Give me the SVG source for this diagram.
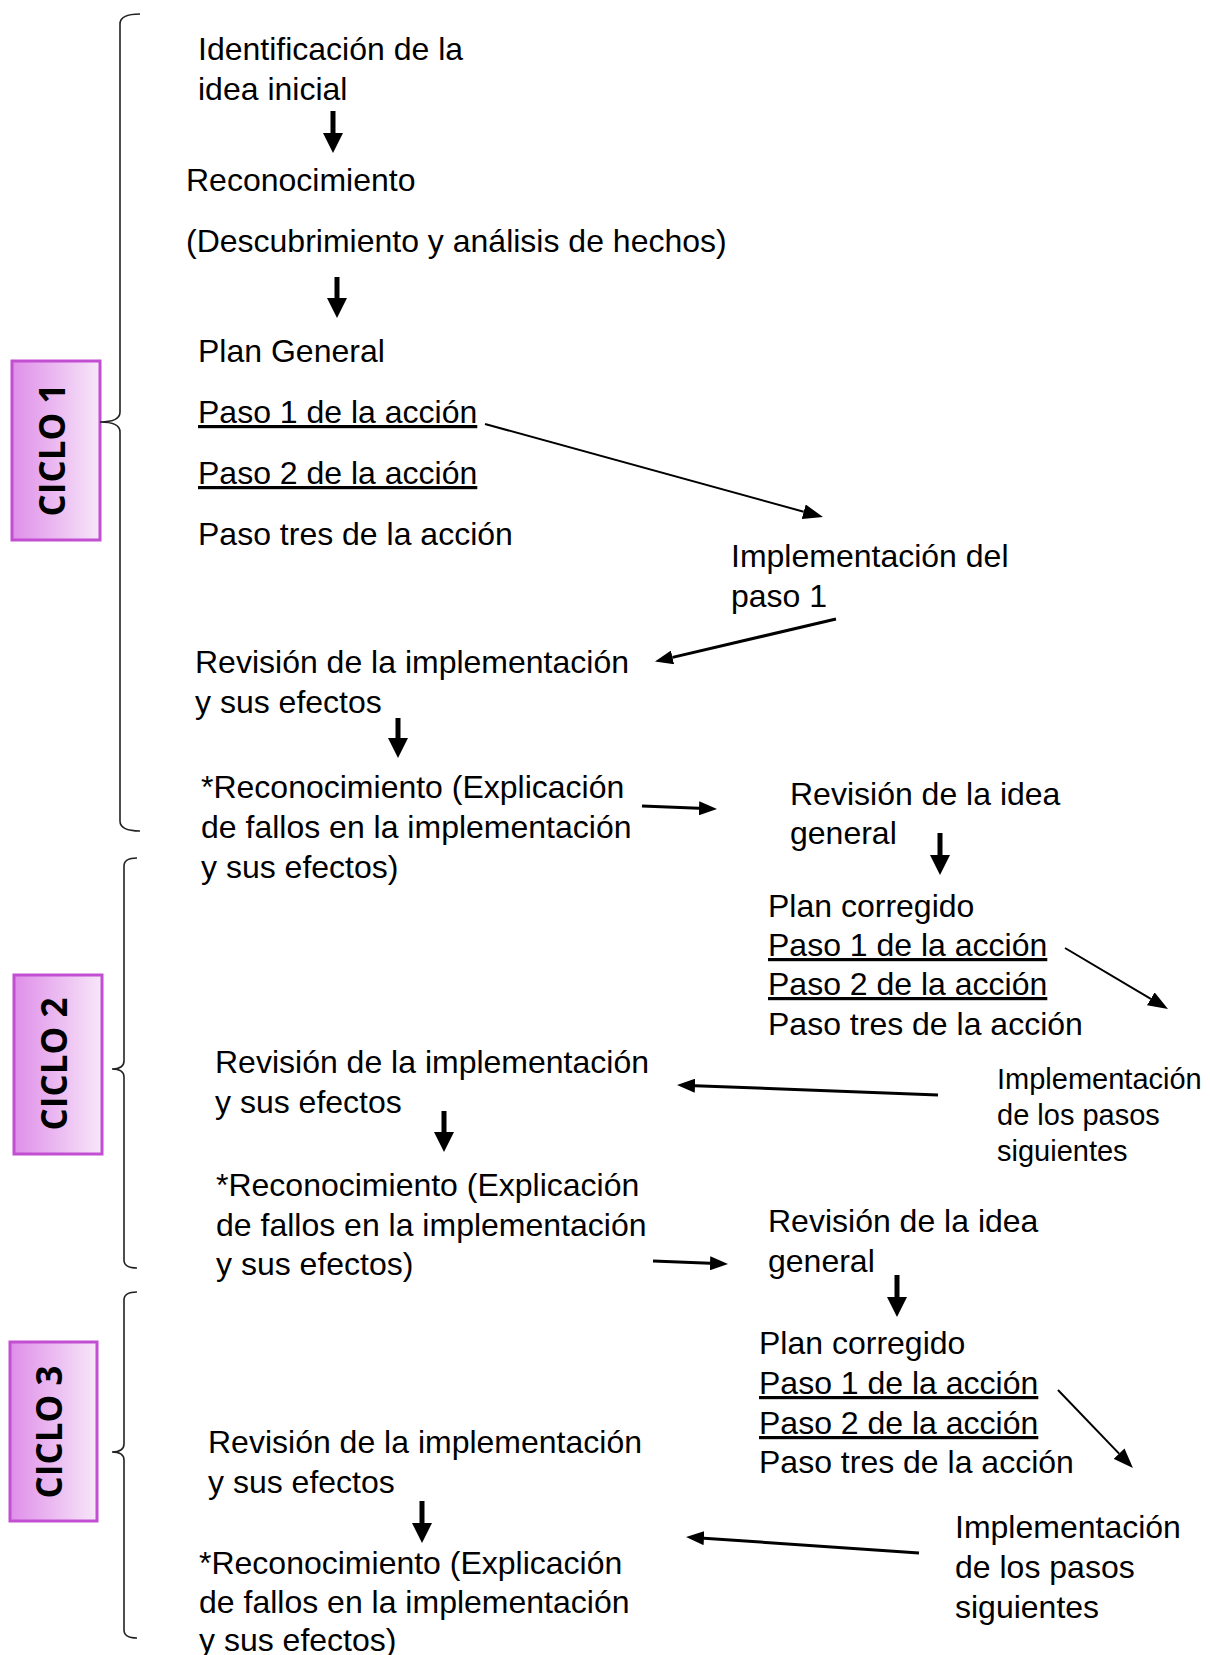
<svg xmlns="http://www.w3.org/2000/svg" width="1210" height="1655" viewBox="0 0 1210 1655">
<style>
.t{font-family:"Liberation Sans",Arial,sans-serif;font-size:32px;fill:#000}
.s{font-size:29px}
.u{text-decoration:underline}
.cy{font-family:"Open Sans","Liberation Sans",sans-serif;font-weight:bold;font-size:35px;fill:#000;text-anchor:middle}
.box{fill:url(#g);stroke:#C24FD2;stroke-width:3}
.br{fill:none;stroke:#222;stroke-width:1.6}
.dn{stroke:#000;stroke-width:5;fill:none;marker-end:url(#big)}
.c3{stroke:#000;stroke-width:3;fill:none;marker-end:url(#med)}
.c2{stroke:#000;stroke-width:2;fill:none;marker-end:url(#thin)}
</style>
<defs>
<linearGradient id="g" x1="0" y1="0" x2="1" y2="0">
<stop offset="0" stop-color="#DF8EE9"/>
<stop offset="1" stop-color="#F7E7F9"/>
</linearGradient>
<marker id="big" markerUnits="userSpaceOnUse" markerWidth="20" markerHeight="20" viewBox="0 0 20 20" refX="0" refY="10" orient="auto"><path d="M0,0 L20,10 L0,20 z" fill="#000"/></marker>
<marker id="med" markerUnits="userSpaceOnUse" markerWidth="18" markerHeight="14" viewBox="0 0 18 14" refX="0" refY="7" orient="auto"><path d="M0,0 L18,7 L0,14 z" fill="#000"/></marker>
<marker id="thin" markerUnits="userSpaceOnUse" markerWidth="20" markerHeight="15" viewBox="0 0 20 15" refX="0" refY="7.5" orient="auto"><path d="M0,0 L20,7.5 L0,15 z" fill="#000"/></marker>
</defs>
<rect width="1210" height="1655" fill="#fff"/>

<g id="ciclo1">
<rect class="box" x="12" y="361" width="88" height="179"/>
<text class="cy" transform="translate(65,450) rotate(-90)">CICLO 1</text>
</g>
<g id="ciclo2">
<rect class="box" x="14" y="975" width="88" height="179"/>
<text class="cy" transform="translate(67,1064) rotate(-90)">CICLO 2</text>
</g>
<g id="ciclo3">
<rect class="box" x="10" y="1342" width="87" height="179"/>
<text class="cy" transform="translate(62,1432) rotate(-90)">CICLO 3</text>
</g>

<g id="braces">
<path class="br" d="M140,14 Q120,14 120,24 L120,412 Q120,422 100,422 Q120,422 120,432 L120,821 Q120,831 140,831"/>
<path class="br" d="M137,858 Q124,858 124,866 L124,1061 Q124,1069 112,1069 Q124,1069 124,1077 L124,1260 Q124,1268 137,1268"/>
<path class="br" d="M137,1292 Q124,1292 124,1300 L124,1444 Q124,1452 112,1452 Q124,1452 124,1460 L124,1630 Q124,1638 137,1638"/>
</g>

<g id="idea-inicial"><text class="t" x="198" y="60">Identificación de la</text><text class="t" x="198" y="100">idea inicial</text></g>
<g id="reconocimiento"><text class="t" x="186" y="191">Reconocimiento</text><text class="t" x="186" y="252">(Descubrimiento y análisis de hechos)</text></g>
<g id="plan-general">
<text class="t" x="198" y="362">Plan General</text>
<text class="t u" x="198" y="423">Paso 1 de la acción</text>
<text class="t u" x="198" y="484">Paso 2 de la acción</text>
<text class="t" x="198" y="545">Paso tres de la acción</text>
</g>
<g id="impl-paso1"><text class="t" x="731" y="567">Implementación del</text><text class="t" x="731" y="607">paso 1</text></g>
<g id="revision1"><text class="t" x="195" y="673">Revisión de la implementación</text><text class="t" x="195" y="713">y sus efectos</text></g>
<g id="reconoc1"><text class="t" x="201" y="798">*Reconocimiento (Explicación</text><text class="t" x="201" y="838">de fallos en la implementación</text><text class="t" x="201" y="878">y sus efectos)</text></g>
<g id="idea-general1"><text class="t" x="790" y="805">Revisión de la idea</text><text class="t" x="790" y="844">general</text></g>
<g id="plan-corregido1">
<text class="t" x="768" y="917">Plan corregido</text>
<text class="t u" x="768" y="956">Paso 1 de la acción</text>
<text class="t u" x="768" y="995">Paso 2 de la acción</text>
<text class="t" x="768" y="1035">Paso tres de la acción</text>
</g>
<g id="impl-pasos1"><text class="t s" x="997" y="1089">Implementación</text><text class="t s" x="997" y="1125">de los pasos</text><text class="t s" x="997" y="1161">siguientes</text></g>
<g id="revision2"><text class="t" x="215" y="1073">Revisión de la implementación</text><text class="t" x="215" y="1113">y sus efectos</text></g>
<g id="reconoc2"><text class="t" x="216" y="1196">*Reconocimiento (Explicación</text><text class="t" x="216" y="1236">de fallos en la implementación</text><text class="t" x="216" y="1275">y sus efectos)</text></g>
<g id="idea-general2"><text class="t" x="768" y="1232">Revisión de la idea</text><text class="t" x="768" y="1272">general</text></g>
<g id="plan-corregido2">
<text class="t" x="759" y="1354">Plan corregido</text>
<text class="t u" x="759" y="1394">Paso 1 de la acción</text>
<text class="t u" x="759" y="1434">Paso 2 de la acción</text>
<text class="t" x="759" y="1473">Paso tres de la acción</text>
</g>
<g id="revision3"><text class="t" x="208" y="1453">Revisión de la implementación</text><text class="t" x="208" y="1493">y sus efectos</text></g>
<g id="impl-pasos2"><text class="t" x="955" y="1538">Implementación</text><text class="t" x="955" y="1578">de los pasos</text><text class="t" x="955" y="1618">siguientes</text></g>
<g id="reconoc3"><text class="t" x="199" y="1574">*Reconocimiento (Explicación</text><text class="t" x="199" y="1613">de fallos en la implementación</text><text class="t" x="199" y="1651">y sus efectos)</text></g>

<g id="connectors">
<path class="dn" d="M333,111 L333,133"/>
<path class="dn" d="M337,277 L337,298"/>
<path class="dn" d="M398,718 L398,738"/>
<path class="dn" d="M940,833 L940,855"/>
<path class="dn" d="M444,1111 L444,1132"/>
<path class="dn" d="M897,1275 L897,1297"/>
<path class="dn" d="M422,1501 L422,1523"/>
<path class="c2" d="M485,424 L803.7,511.7"/>
<path class="c3" d="M836,619 L672.5,657.4"/>
<path class="c3" d="M642,806 L699,808.3"/>
<path class="c2" d="M1065,948 L1150.8,998.8"/>
<path class="c3" d="M938,1095 L695,1085.7"/>
<path class="c3" d="M653,1261 L710,1263.3"/>
<path class="c2" d="M1058,1390 L1119.1,1453.6"/>
<path class="c3" d="M919,1553 L704,1538.2"/>
</g>
</svg>
